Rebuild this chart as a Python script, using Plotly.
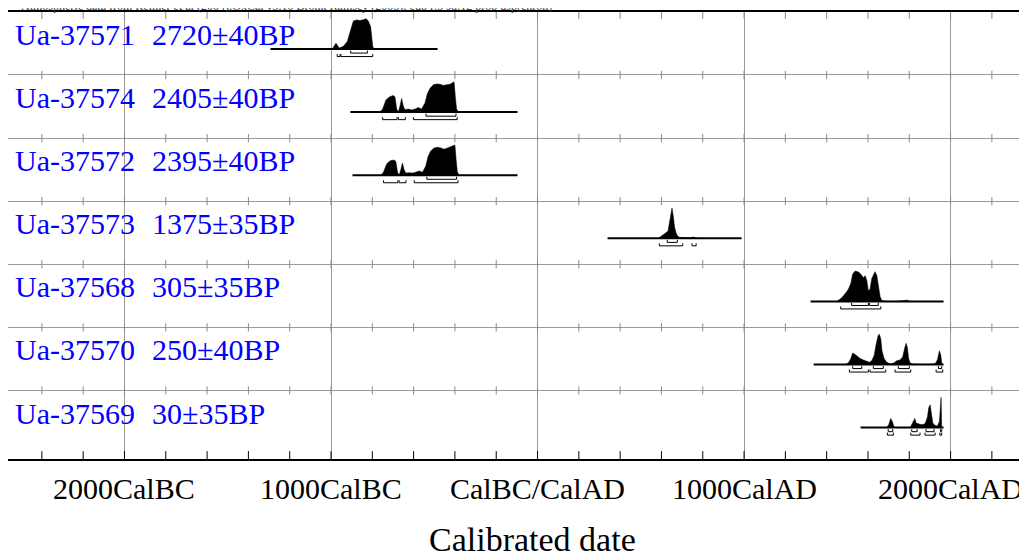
import plotly.graph_objects as go

# ---------------- data ----------------
sample_ids = ["Ua-37571", "Ua-37574", "Ua-37572", "Ua-37573", "Ua-37568", "Ua-37570", "Ua-37569"]
bp_dates = ["2720±40BP", "2405±40BP", "2395±40BP", "1375±35BP", "305±35BP", "250±40BP", "30±35BP"]

# extent of the base line of each distribution (cal years, BC negative)
line_start = [-1293, -906, -896, 339, 1322, 1337, 1564]
line_end = [-484, -97, -97, 988, 1966, 1966, 1966]

# probability distributions (years, relative probability)
dist_years = [
    [-994, -976, -960, -940, -921, -908, -892, -876, -860, -840, -830, -819, -808, -798, -792],
    [-763, -750, -734, -717, -698, -690, -682, -674, -666, -658, -650, -642, -626, -609, -593, -577,
     -561, -545, -534, -521, -505, -488, -472, -456, -440, -424, -411, -404, -398, -392, -383],
    [-760, -746, -730, -713, -694, -686, -678, -670, -662, -654, -646, -638, -622, -605, -589, -573,
     -557, -541, -530, -517, -501, -484, -468, -452, -436, -420, -407, -400, -394, -388, -379],
    [585, 596, 609, 622, 632, 638, 645, 651, 658, 664, 671, 677, 687, 703, 722, 739, 755, 768, 787],
    [1449, 1462, 1473, 1489, 1505, 1517, 1526, 1538, 1554, 1565, 1578, 1586, 1594, 1602, 1610, 1618,
     1629, 1634, 1643, 1650, 1659, 1667, 1683, 1723, 1780, 1791, 1800, 1812],
    [1489, 1505, 1517, 1526, 1538, 1549, 1562, 1578, 1594, 1607, 1618, 1630, 1639, 1649, 1655, 1662,
     1668, 1678, 1691, 1707, 1726, 1739, 1755, 1768, 1778, 1785, 1791, 1797, 1804, 1820, 1885, 1925,
     1936, 1946, 1953, 1957, 1962],
    [1691, 1701, 1710, 1718, 1726, 1739, 1804, 1812, 1820, 1827, 1833, 1844, 1856, 1868, 1878, 1888,
     1894, 1901, 1907, 1914, 1923, 1936, 1946, 1951, 1954, 1957],
]
dist_probs = [
    [0.0, 0.19, 0.03, 0.09, 0.25, 0.57, 0.92, 0.96, 0.94, 0.97, 1.0, 0.92, 0.73, 0.09, 0.0],
    [0.0, 0.1, 0.4, 0.5, 0.55, 0.5, 0.1, 0.0, 0.2, 0.45, 0.2, 0.08, 0.1, 0.07, 0.1, 0.15,
     0.1, 0.3, 0.6, 0.78, 0.9, 0.93, 0.92, 0.88, 0.9, 0.92, 0.97, 1.0, 0.5, 0.1, 0.0],
    [0.0, 0.1, 0.38, 0.48, 0.5, 0.45, 0.1, 0.0, 0.18, 0.4, 0.18, 0.07, 0.08, 0.07, 0.1, 0.14,
     0.1, 0.3, 0.62, 0.8, 0.9, 0.92, 0.9, 0.86, 0.9, 0.95, 0.98, 1.0, 0.5, 0.1, 0.0],
    [0.0, 0.05, 0.12, 0.18, 0.25, 0.45, 0.75, 1.0, 0.7, 0.35, 0.18, 0.08, 0.03, 0.02, 0.01, 0.02,
     0.04, 0.01, 0.0],
    [0.0, 0.05, 0.12, 0.25, 0.4, 0.6, 0.9, 1.0, 0.97, 0.9, 0.78, 0.85, 0.7, 0.35, 0.4, 0.75,
     0.95, 0.98, 0.85, 0.5, 0.15, 0.03, 0.01, 0.0, 0.02, 0.04, 0.01, 0.0],
    [0.0, 0.05, 0.2, 0.38, 0.33, 0.27, 0.2, 0.15, 0.1, 0.07, 0.12, 0.3, 0.65, 0.95, 1.0, 0.85,
     0.45, 0.2, 0.07, 0.02, 0.05, 0.12, 0.15, 0.25, 0.55, 0.7, 0.55, 0.2, 0.05, 0.01, 0.0, 0.02,
     0.15, 0.45, 0.3, 0.05, 0.0],
    [0.0, 0.1, 0.3, 0.2, 0.02, 0.0, 0.0, 0.1, 0.25, 0.3, 0.15, 0.12, 0.1, 0.1, 0.15, 0.35,
     0.65, 0.75, 0.4, 0.15, 0.08, 0.05, 0.2, 0.6, 1.0, 0.0],
]

# 68.2% and 95.4% probability ranges
ranges_68 = [
    [(-905, -824)],
    [(-540, -395)],
    [(-536, -392)],
    [(628, 677)],
    [(1521, 1602), (1607, 1650)],
    [(1526, 1570), (1626, 1674), (1747, 1800), (1941, 1957)],
    [(1698, 1720), (1812, 1838), (1881, 1920), (1951, 1957)],
]
ranges_95 = [
    [(-970, -956), (-952, -798)],
    [(-750, -680), (-674, -640), (-601, -389)],
    [(-746, -676), (-670, -637), (-597, -385)],
    [(590, 703), (748, 768)],
    [(1468, 1662)],
    [(1510, 1602), (1610, 1686), (1731, 1807), (1930, 1962)],
    [(1694, 1723), (1807, 1852), (1876, 1925), (1948, 1957)],
]

major_years = [-2000, -1000, 0, 1000, 2000]
major_labels = ["2000CalBC", "1000CalBC", "CalBC/CalAD", "1000CalAD", "2000CalAD"]
minor_years = list(range(-2400, 2201, 200))

header_text = ("Atmospheric data from Reimer et al (2004);OxCal v3.10 Bronk Ramsey (2005); "
               "cub r:5 sd:12 prob usp[chron]")
x_title = "Calibrated date"

# ---------------- geometry ----------------
# the page body adds an 8px margin, so the figure occupies page pixels 8..1027 x 8..558
X_RANGE = [-2564, 2370]
Y_TOP = 7.084
n = len(sample_ids)
base_y = [6.498 - i for i in range(n)]
sep_y = [6.086 - i for i in range(n - 1)]
PEAK = 0.48
OFF68 = 0.065
OFF95 = 0.12
BTICK = 0.04
SERIF = "Liberation Serif, Times New Roman, serif"
PW = 1019.0   # plot width in px
PH = 447.0    # plot height in px

fig = go.Figure()

# row separator tick crosses
tx, ty = [], []
for s in sep_y:
    for yr in minor_years:
        tx += [yr, yr, None]
        ty += [s - 0.065, s + 0.065, None]
fig.add_trace(go.Scatter(x=tx, y=ty, mode="lines", line=dict(color="#8a8a8a", width=1),
                         hoverinfo="skip", showlegend=False))
# top edge ticks (pointing down)
tx, ty = [], []
for yr in minor_years:
    tx += [yr, yr, None]
    ty += [Y_TOP, Y_TOP - 0.11, None]
fig.add_trace(go.Scatter(x=tx, y=ty, mode="lines", line=dict(color="#8a8a8a", width=1),
                         hoverinfo="skip", showlegend=False))
# bottom edge ticks (pointing up)
tx, ty = [], []
for yr in minor_years:
    tx += [yr, yr, None]
    ty += [0, 0.125, None]
fig.add_trace(go.Scatter(x=tx, y=ty, mode="lines", line=dict(color="black", width=1),
                         hoverinfo="skip", showlegend=False))

for i in range(n):
    b = base_y[i]
    xs = [dist_years[i][0]] + dist_years[i] + [dist_years[i][-1]]
    ys = [b] + [b + p * PEAK for p in dist_probs[i]] + [b]
    fig.add_trace(go.Scatter(x=xs, y=ys, mode="lines", fill="toself", fillcolor="black",
                             line=dict(color="black", width=0.5), hoverinfo="skip", showlegend=False))
    fig.add_trace(go.Scatter(x=[line_start[i], line_end[i]], y=[b, b], mode="lines",
                             line=dict(color="black", width=2), hoverinfo="skip", showlegend=False))
    bx, by = [], []
    for off, rr in ((OFF68, ranges_68[i]), (OFF95, ranges_95[i])):
        yy = b - off
        for a, c in rr:
            bx += [a, a, c, c, None]
            by += [yy + BTICK, yy, yy, yy + BTICK, None]
    fig.add_trace(go.Scatter(x=bx, y=by, mode="lines", line=dict(color="black", width=1),
                             hoverinfo="skip", showlegend=False))

annotations = []
for i in range(n):
    annotations.append(dict(x=(13 - 8) / PW, y=base_y[i] + 0.23, xref="paper", yref="y",
                            text=sample_ids[i], showarrow=False, xanchor="left", yanchor="middle",
                            font=dict(family=SERIF, size=30, color="#0000ff")))
    annotations.append(dict(x=(150 - 8) / PW, y=base_y[i] + 0.23, xref="paper", yref="y",
                            text=bp_dates[i], showarrow=False, xanchor="left", yanchor="middle",
                            font=dict(family=SERIF, size=30, color="#0000ff")))
for yr, lab in zip(major_years, major_labels):
    annotations.append(dict(x=yr, y=-30 / PH, xref="x", yref="paper", text=lab, showarrow=False,
                            xanchor="center", yanchor="middle",
                            font=dict(family=SERIF, size=30, color="black")))
annotations.append(dict(x=(532 - 8) / PW, y=-80 / PH, xref="paper", yref="paper",
                        text=x_title, showarrow=False, xanchor="center", yanchor="middle",
                        font=dict(family=SERIF, size=34, color="black")))
annotations.append(dict(x=(20 - 8) / PW, y=1 - 2 / PH, xref="paper", yref="paper",
                        text=header_text, showarrow=False, xanchor="left", yanchor="bottom",
                        borderpad=0, font=dict(family=SERIF, size=12, color="#444444")))

fig.update_layout(
    width=1019, height=550,
    margin=dict(l=0, r=0, t=4, b=99),
    paper_bgcolor="white", plot_bgcolor="white",
    showlegend=False,
    annotations=annotations,
    xaxis=dict(range=X_RANGE, tickvals=major_years, showticklabels=False, ticks="",
               showgrid=True, gridcolor="#9a9a9a", gridwidth=1, zeroline=False,
               showline=True, linecolor="black", linewidth=1.5, mirror=True, fixedrange=True),
    yaxis=dict(range=[0, Y_TOP], tickvals=sep_y, showticklabels=False, ticks="",
               showgrid=True, gridcolor="#9a9a9a", gridwidth=1, zeroline=False,
               showline=True, linecolor="black", linewidth=2, mirror=False, fixedrange=True),
)

fig.write_html("out.html")
